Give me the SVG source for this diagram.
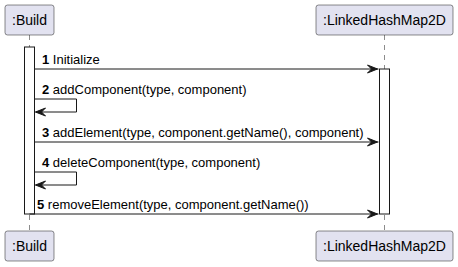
<svg xmlns="http://www.w3.org/2000/svg" width="458" height="267" viewBox="0 0 458 267">
  <defs>
    <style>
      .pbox { fill: #E2E2F0; stroke: #181818; stroke-width: 0.5; }
      .ptext { font-family: "Liberation Sans", Arial, sans-serif; font-size: 14px; fill: #000000; }
      .life { stroke: #181818; stroke-width: 0.5; stroke-dasharray: 5 5; fill: none; }
      .act { fill: #FFFFFF; stroke: #181818; stroke-width: 1; }
      .msg { stroke: #181818; stroke-width: 1; fill: none; }
      .head { fill: #181818; stroke: #181818; stroke-width: 1; }
      .lbl { font-family: "Liberation Sans", Arial, sans-serif; font-size: 13px; fill: #000000; }
      .num { font-weight: bold; }
    </style>
  </defs>

  <!-- lifelines -->
  <g id="lifelines">
    <line class="life" x1="29.5" y1="35" x2="29.5" y2="231"/>
    <line class="life" x1="384.5" y1="35" x2="384.5" y2="231"/>
  </g>

  <!-- participant: Build (head and foot) -->
  <g id="build">
    <rect class="pbox" x="5" y="5" width="49" height="30" rx="2.5" ry="2.5"/>
    <text class="ptext" x="12" y="25">:Build</text>
    <rect class="pbox" x="5" y="231" width="49" height="30" rx="2.5" ry="2.5"/>
    <text class="ptext" x="12" y="251">:Build</text>
    <rect class="act" x="24.5" y="47" width="10" height="167"/>
  </g>

  <!-- participant: LinkedHashMap2D (head and foot) -->
  <g id="linkedhashmap2d">
    <rect class="pbox" x="316" y="5" width="137" height="30" rx="2.5" ry="2.5"/>
    <text class="ptext" x="323" y="25">:LinkedHashMap2D</text>
    <rect class="pbox" x="316" y="231" width="137" height="30" rx="2.5" ry="2.5"/>
    <text class="ptext" x="323" y="251">:LinkedHashMap2D</text>
    <rect class="act" x="379.5" y="69" width="10" height="145"/>
  </g>

  <!-- messages -->
  <g id="connectors">
    <!-- 1 Initialize -->
    <line class="msg" x1="34.5" y1="69" x2="378.5" y2="69"/>
    <polygon class="head" points="367.5,65 377.5,69 367.5,73 371.5,69"/>
    <text class="lbl" x="42" y="64"><tspan class="num">1</tspan> Initialize</text>

    <!-- 2 addComponent (self) -->
    <polyline class="msg" points="34.5,99 76.5,99 76.5,112 35.5,112"/>
    <polygon class="head" points="45.5,108 35.5,112 45.5,116 41.5,112"/>
    <text class="lbl" x="42" y="94"><tspan class="num">2</tspan> addComponent(type, component)</text>

    <!-- 3 addElement -->
    <line class="msg" x1="34.5" y1="142" x2="378.5" y2="142"/>
    <polygon class="head" points="367.5,138 377.5,142 367.5,146 371.5,142"/>
    <text class="lbl" x="42" y="137"><tspan class="num">3</tspan> addElement(type, component.getName(), component)</text>

    <!-- 4 deleteComponent (self) -->
    <polyline class="msg" points="34.5,172 76.5,172 76.5,185 35.5,185"/>
    <polygon class="head" points="45.5,181 35.5,185 45.5,189 41.5,185"/>
    <text class="lbl" x="42" y="167"><tspan class="num">4</tspan> deleteComponent(type, component)</text>

    <!-- 5 removeElement -->
    <line class="msg" x1="29.5" y1="214" x2="378.5" y2="214"/>
    <polygon class="head" points="367.5,210 377.5,214 367.5,218 371.5,214"/>
    <text class="lbl" x="37" y="209"><tspan class="num">5</tspan> removeElement(type, component.getName())</text>
  </g>
</svg>
